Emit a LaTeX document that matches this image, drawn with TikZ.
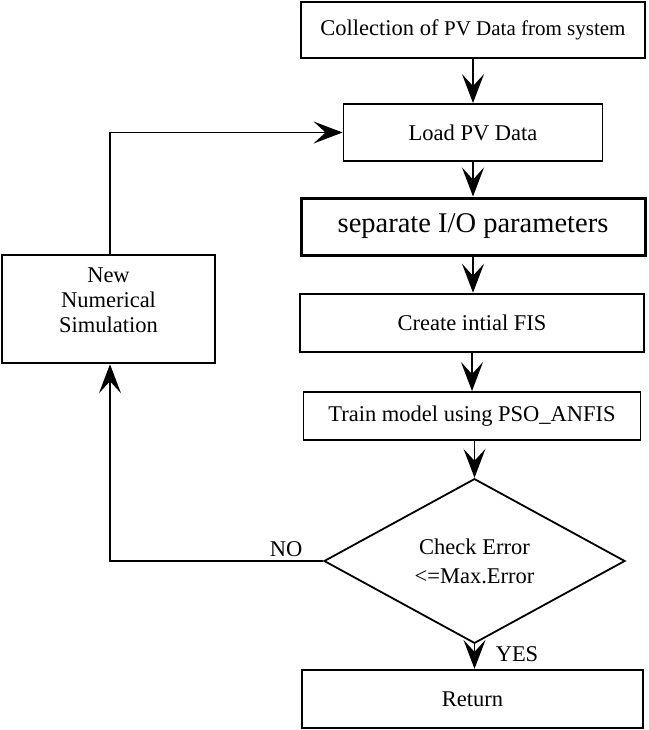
\documentclass[tikz,border=0pt]{standalone}
\usepackage{fontspec}
\setmainfont{Liberation Serif}
\usetikzlibrary{arrows.meta,shapes.geometric}

\begin{document}
\begin{tikzpicture}[x=1pt,y=-1pt,
  txt/.style={font=\fontsize{22.5}{25}\selectfont},
  box/.style={draw, rectangle, line width=1.9pt, inner sep=0pt, align=center, txt},
  flow/.style={line width=1.8pt, -{Stealth[length=29pt,width=22pt,inset=12pt]}}]
\useasboundingbox (0,0) rectangle (648,730);

% main column
\node[box, minimum width=344pt, minimum height=56pt] (collect) at (473,30)
  {Collection of {\fontsize{21}{24}\selectfont PV Data from system}};
\node[box, minimum width=259pt, minimum height=57pt] (load) at (473,132.5) {Load PV Data};
\node[box, line width=3pt, minimum width=344pt, minimum height=57pt,
  font=\fontsize{28.5}{32}\selectfont] (sep) at (473,226.5) {separate I/O parameters};
\node[box, line width=2.5pt, minimum width=344pt, minimum height=58pt] (fis) at (472,323) {Create intial FIS};
\node[box, minimum width=337pt, minimum height=48pt] (train) at (472,416) {Train model using PSO\_ANFIS};
\node[draw, diamond, line width=1.8pt, inner sep=0pt, minimum width=301pt, minimum height=161pt,
  align=center, txt, font=\fontsize{22.5}{29}\selectfont] (dia) at (474.5,561) {Check Error\\<=Max.Error};
\node[box, line width=2.3pt, minimum width=341pt, minimum height=58pt] (ret) at (472.5,699) {Return};

% side box of the retry loop
\node[box, line width=2.5pt, minimum width=213pt, minimum height=108pt] (sim) at (108.5,309)
  {New\\Numerical\\Simulation\\[-8pt]};

% labels on the decision branches
\node[txt, inner sep=0pt] (no) at (286,549) {NO};
\node[txt, inner sep=0pt] (yes) at (517,654) {YES};

% connectors
\draw[flow] (collect.south) -- (collect.south |- load.north);
\draw[flow] (load.south) -- (load.south |- sep.north);
\draw[flow] (sep.south) -- (sep.south |- fis.north);
\draw[flow] (fis.south) -- (fis.south |- train.north);
\draw[flow] (train.south -| dia.north) -- (dia.north);
\draw[flow] (dia.south) -- (dia.south |- ret.north);
\draw[flow] (dia.west) -| ([xshift=1.5pt]sim.south);
\draw[flow] ([xshift=1.5pt]sim.north) |- (load.west);
\end{tikzpicture}
\end{document}
